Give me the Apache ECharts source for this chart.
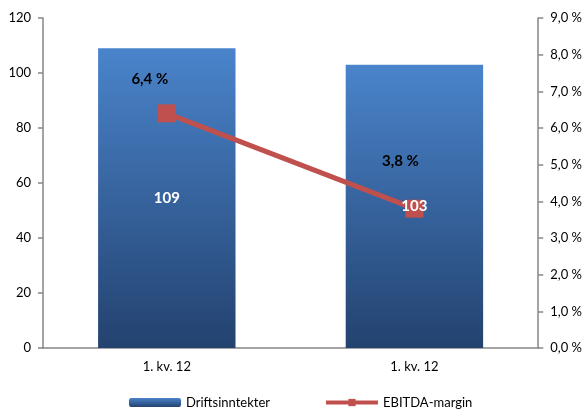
<!DOCTYPE html>
<html>
<head>
<meta charset="utf-8">
<script src="https://cdn.jsdelivr.net/npm/echarts@6/dist/echarts.min.js"></script>
<style>
  html, body { margin: 0; padding: 0; background: #fff; }
  #chart { width: 585px; height: 410px; }
</style>
</head>
<body>
<div id="chart"></div>
<script>
// Quarterly figures: revenue (bars, left axis) and EBITDA margin in % (line, right axis)
const categories = ['1. kv. 12', '1. kv. 12'];
const revenue = [109, 103];
const ebitdaMargin = [6.4, 3.8];
const leftTicks = { min: 0, max: 120, interval: 20 };
const rightTicks = { min: 0, max: 9, interval: 1 };

const FONT = 'Lato';
const axisGrey = '#868686';
const lineRed = '#c0504d';
const pct = v => v.toFixed(1).replace('.', ',') + ' %';

// where each margin label sits relative to its marker
const marginLabelOffsets = [[-17, -34], [-14, -48]];

const valueLabel = {
  show: true,
  position: 'inside',
  color: '#fff',
  fontWeight: 'bold',
  fontSize: 15,
  fontFamily: FONT
};

const chart = echarts.init(document.getElementById('chart'));
chart.setOption({
  animation: false,
  textStyle: { fontFamily: FONT },
  grid: { left: 43, right: 45, top: 18, bottom: 62 },
  legend: {
    top: 396,
    left: 129,
    padding: 0,
    itemWidth: 52,
    itemHeight: 9,
    itemGap: 54,
    textStyle: { fontFamily: FONT, fontSize: 13, color: '#000' },
    data: [
      { name: 'Driftsinntekter' },
      { name: 'EBITDA-margin', lineStyle: { width: 4, color: lineRed } }
    ]
  },
  xAxis: {
    type: 'category',
    data: categories,
    axisLine: { lineStyle: { color: axisGrey, width: 1.5 } },
    axisTick: { lineStyle: { color: axisGrey, width: 1.5 }, length: 5 },
    axisLabel: { color: '#000', fontSize: 13, margin: 12, fontFamily: FONT }
  },
  yAxis: [
    {
      type: 'value',
      min: leftTicks.min, max: leftTicks.max, interval: leftTicks.interval,
      axisLine: { show: true, lineStyle: { color: axisGrey, width: 1.5 } },
      axisTick: { show: true, length: 5, lineStyle: { color: axisGrey, width: 1.5 } },
      splitLine: { show: false },
      axisLabel: { color: '#000', fontSize: 13, margin: 12, fontFamily: FONT }
    },
    {
      type: 'value',
      min: rightTicks.min, max: rightTicks.max, interval: rightTicks.interval,
      position: 'right',
      axisLine: { show: true, lineStyle: { color: axisGrey, width: 1.5 } },
      axisTick: { show: true, length: 5, lineStyle: { color: axisGrey, width: 1.5 } },
      splitLine: { show: false },
      axisLabel: { color: '#000', fontSize: 13, margin: 12, fontFamily: FONT, formatter: pct }
    }
  ],
  series: [
    {
      name: 'Driftsinntekter',
      type: 'bar',
      data: revenue,
      barWidth: '55.5%',
      itemStyle: {
        color: new echarts.graphic.LinearGradient(0, 0, 0, 1, [
          { offset: 0, color: '#4a84cb' },
          { offset: 1, color: '#23426f' }
        ])
      }
    },
    {
      name: 'EBITDA-margin',
      type: 'line',
      yAxisIndex: 1,
      z: 3,
      data: ebitdaMargin.map((v, i) => ({
        value: v,
        label: { offset: marginLabelOffsets[i] }
      })),
      symbol: 'rect',
      symbolSize: 18,
      lineStyle: { color: lineRed, width: 5 },
      itemStyle: { color: lineRed },
      label: {
        show: true,
        position: 'inside',
        color: '#000',
        fontWeight: 'bold',
        fontSize: 15,
        fontFamily: FONT,
        formatter: p => pct(p.value)
      }
    },
    {
      // transparent overlay carrying the revenue labels above the line
      name: 'Driftsinntekter-etiketter',
      type: 'bar',
      data: revenue,
      barWidth: '55.5%',
      barGap: '-100%',
      z: 5,
      silent: true,
      itemStyle: { color: 'rgba(0,0,0,0)' },
      label: valueLabel
    }
  ]
});
</script>
</body>
</html>
